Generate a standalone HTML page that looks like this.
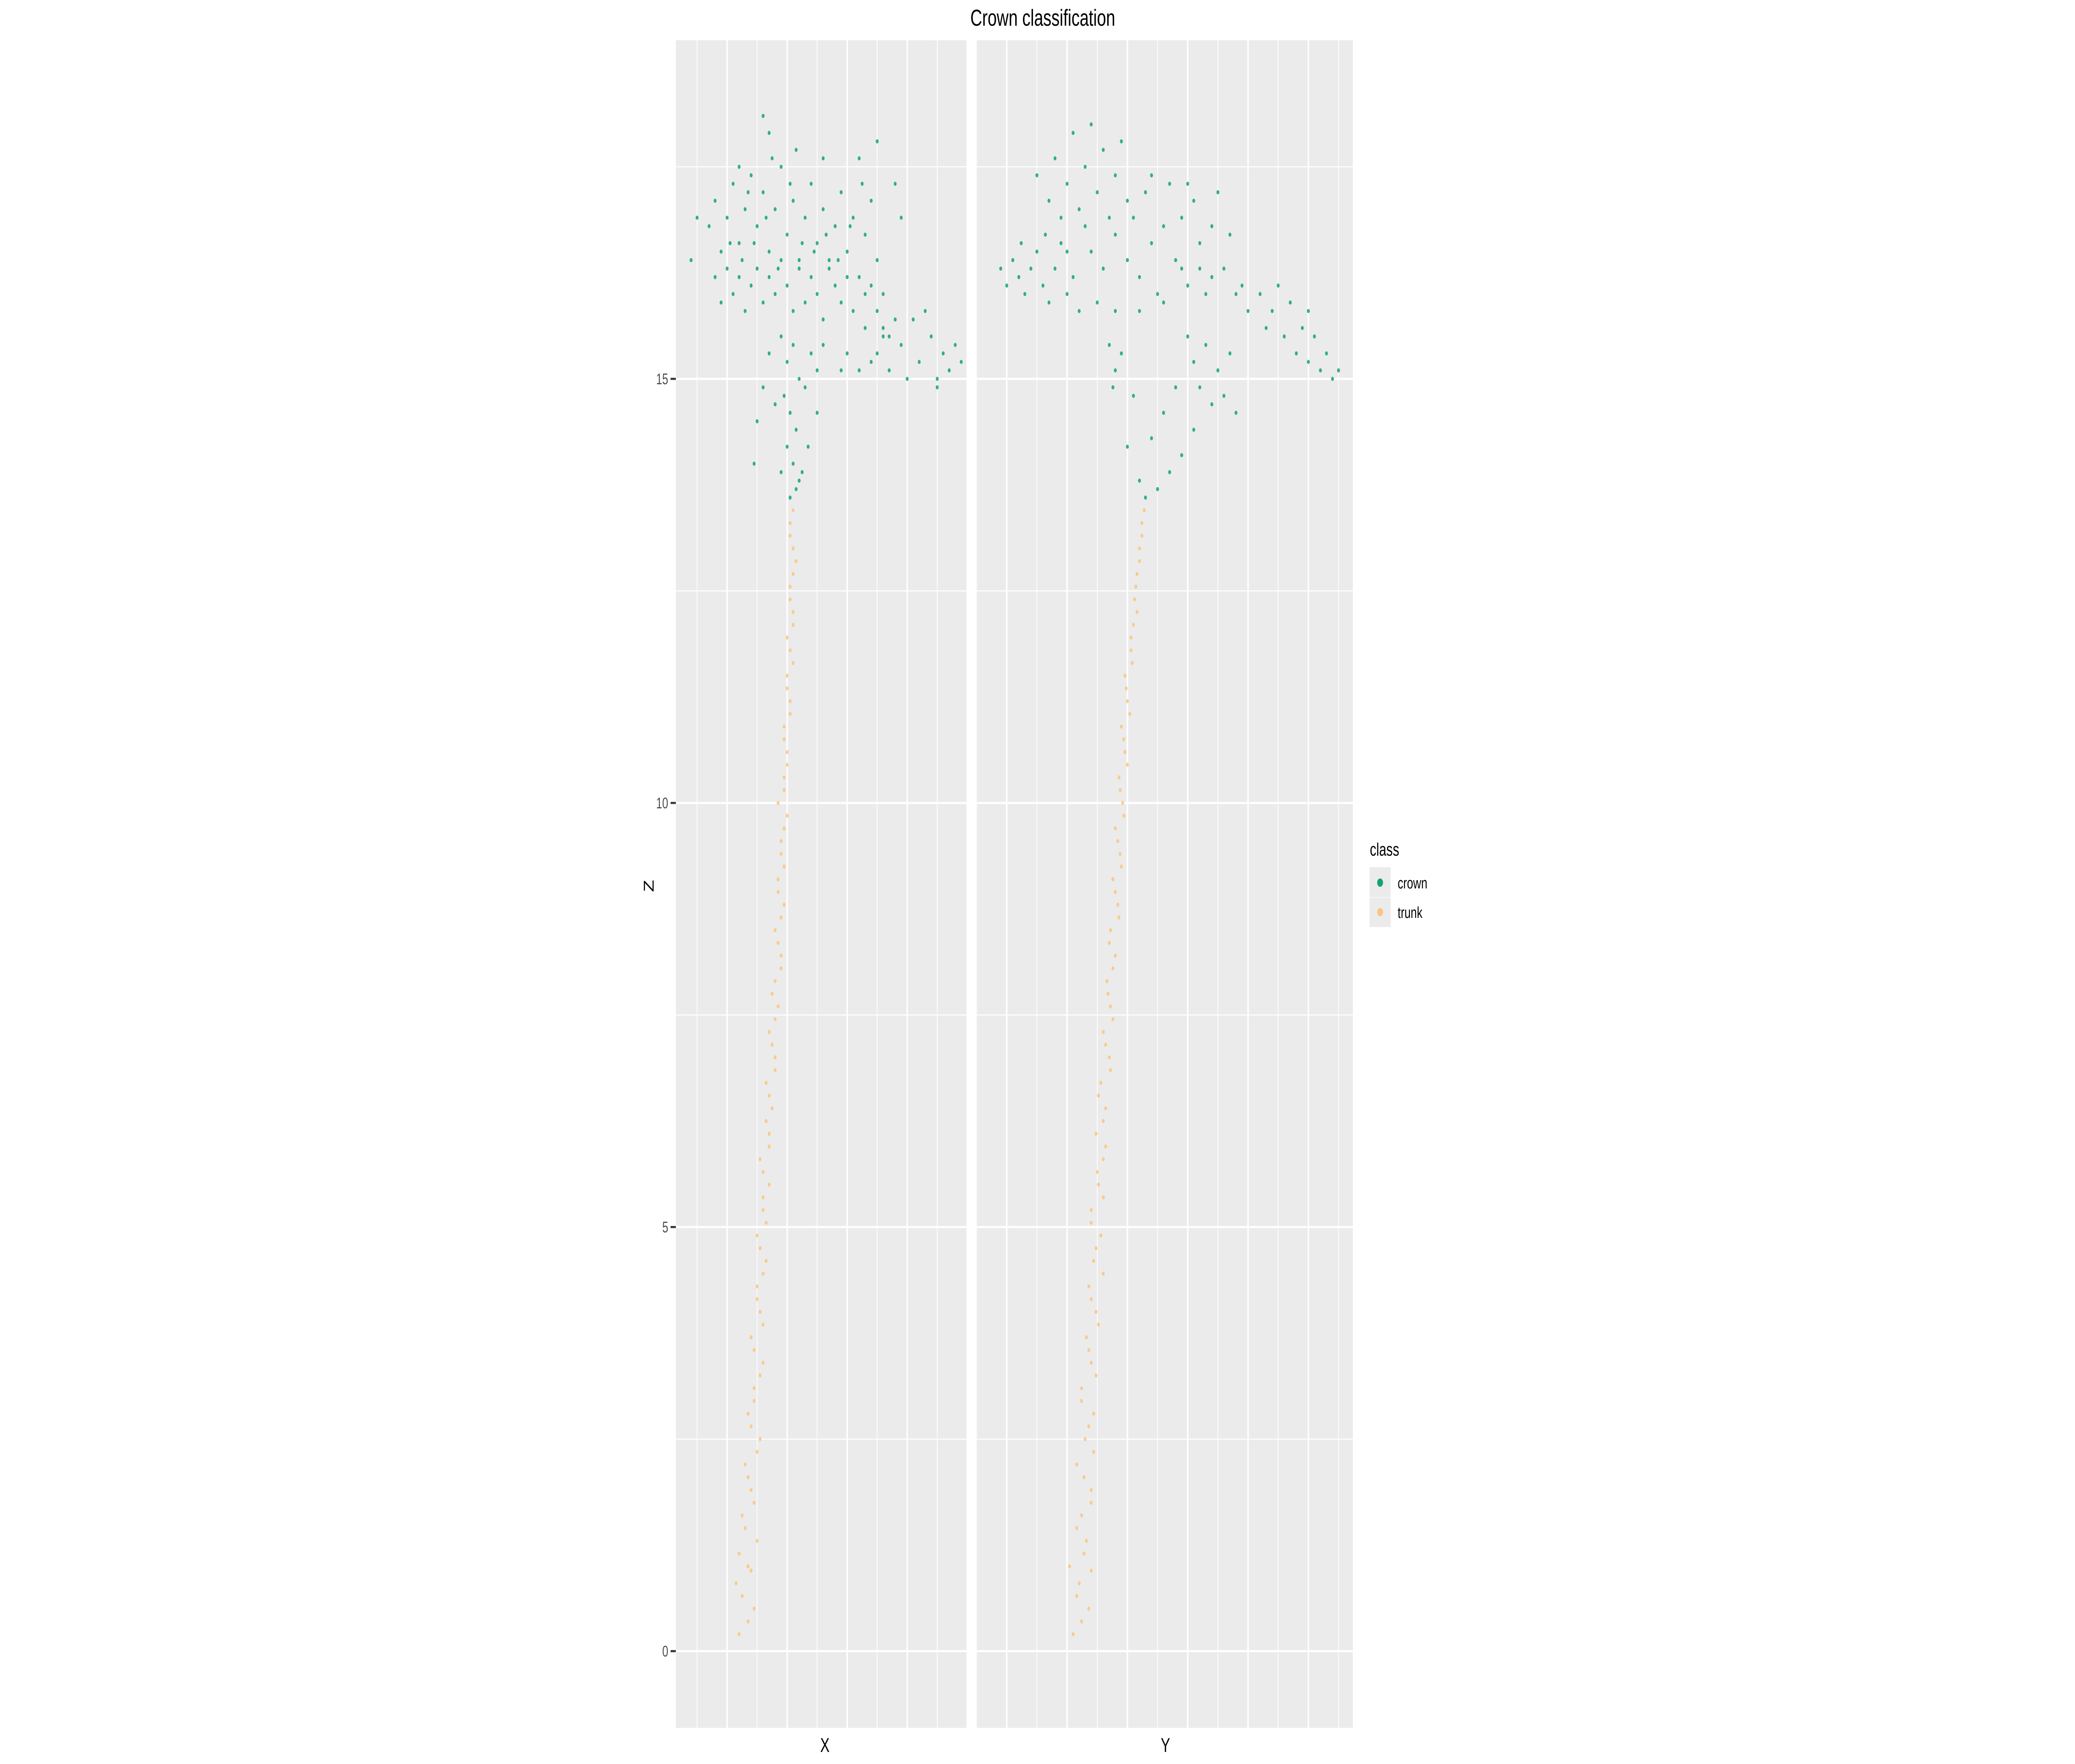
<!DOCTYPE html>
<html><head><meta charset="utf-8"><title>Crown classification</title>
<style>html,body{margin:0;padding:0;background:#fff;width:100%;height:100%;overflow:hidden;}svg{display:block;width:100vw;height:100vh;font-family:"Liberation Sans",Arial,sans-serif;}</style>
</head><body>
<svg id="chart" xmlns="http://www.w3.org/2000/svg" viewBox="0 0 7086 4251" preserveAspectRatio="none">
<rect width="7086" height="4251" fill="#fff"/>
<text x="3561" y="62" font-size="56" text-anchor="middle" fill="#000">Crown classification</text>
<g id="panels"></g>
<text x="0" y="0" font-size="48" text-anchor="middle" transform="translate(2232,2135) rotate(-90)">Z</text>
<text x="2817" y="4222" font-size="48" text-anchor="middle">X</text>
<text x="3980" y="4222" font-size="48" text-anchor="middle">Y</text>
<g>
<text x="4678" y="2062" font-size="44">class</text>
<rect x="4677" y="2090" width="72" height="72" fill="#ebebeb"/>
<rect x="4677" y="2163" width="72" height="71" fill="#ebebeb"/>
<circle cx="4713" cy="2127" r="10" fill="#12a378"/>
<circle cx="4713" cy="2198" r="10" fill="#fcc57f"/>
<text x="4773" y="2141" font-size="38">crown</text>
<text x="4773" y="2212" font-size="38">trunk</text>
</g>
</svg>
<script>
// ---- data ----
const zTicks = [0, 5, 10, 15];
const zTickLabels = ["0", "5", "10", "15"];
const zMinor = [2.5, 7.5, 12.5, 17.5];
const xMajor1 = [-0.5, 0, 0.5, 1, 1.5, 2, 2.5, 3, 3.5, 4];
const yMajor2 = [-0.25, 0, 0.25, 0.5, 0.75, 1, 1.25, 1.5, 1.75, 2, 2.25, 2.5, 2.75];
// trunk, panel X (x, z)
const trunkX1 = [0.2,0.45,0.15,0.35,0.5,0.25,0.4,0.3,0.55,0.35,0.45,0.6,0.4,0.55,0.5,0.65,0.5,0.6,0.7,0.55,0.7,0.75,0.65,0.8,0.7,0.85,0.8,0.9,0.8,0.95,0.85,0.9,0.95,0.85,0.95,1.0,0.95,1.05,1.0,1.05,1.1,1.05,1.1,1.1,1.05,
 0.35,0.25,0.4,0.2,0.3,0.45,0.35,0.5,0.4,0.45,0.55,0.45,0.6,0.5,0.6,0.55,0.65,0.6,0.6,0.7,0.65,0.7,0.8,0.75,0.8,0.75,0.9,0.85,0.9,0.85,0.95,0.9,1.0,0.95,1.0,0.95,1.05,1.0,1.1,1.0,1.1,1.05,1.15,1.05,1.1];
const trunkZ1 = [0.2,0.5,0.8,1.0,1.3,1.6,1.9,2.2,2.5,2.8,3.1,3.4,3.7,4.0,4.3,4.6,4.9,5.2,5.5,5.8,6.1,6.4,6.7,7.0,7.3,7.6,7.9,8.2,8.5,8.8,9.1,9.4,9.7,10.0,10.3,10.6,10.9,11.2,11.5,11.8,12.1,12.4,12.7,13.0,13.3,
 0.35,0.65,0.95,1.15,1.45,1.75,2.05,2.35,2.65,2.95,3.25,3.55,3.85,4.15,4.45,4.75,5.05,5.35,5.65,5.95,6.25,6.55,6.85,7.15,7.45,7.75,8.05,8.35,8.65,8.95,9.25,9.55,9.85,10.15,10.45,10.75,11.05,11.35,11.65,11.95,12.25,12.55,12.85,13.15,13.45];
// trunk, panel Y (y, z)
const trunkY2 = [0.55,0.68,0.6,0.52,0.66,0.62,0.7,0.58,0.65,0.72,0.62,0.7,0.66,0.74,0.68,0.72,0.78,0.7,0.76,0.8,0.74,0.82,0.78,0.85,0.8,0.86,0.83,0.9,0.86,0.92,0.88,0.94,0.9,0.96,0.93,0.98,0.95,1.0,0.98,1.03,1.05,1.06,1.08,1.1,1.12,
 0.62,0.58,0.7,0.64,0.58,0.7,0.64,0.72,0.68,0.62,0.74,0.68,0.76,0.7,0.8,0.74,0.7,0.8,0.75,0.82,0.8,0.76,0.86,0.82,0.88,0.84,0.88,0.85,0.93,0.9,0.95,0.92,0.97,0.94,1.0,0.97,1.02,0.99,1.04,1.03,1.08,1.07,1.1,1.12,1.14];
const trunkZ2 = [0.2,0.5,0.8,1.0,1.3,1.6,1.9,2.2,2.5,2.8,3.1,3.4,3.7,4.0,4.3,4.6,4.9,5.2,5.5,5.8,6.1,6.4,6.7,7.0,7.3,7.6,7.9,8.2,8.5,8.8,9.1,9.4,9.7,10.0,10.3,10.6,10.9,11.2,11.5,11.8,12.1,12.4,12.7,13.0,13.3,
 0.35,0.65,0.95,1.15,1.45,1.75,2.05,2.35,2.65,2.95,3.25,3.55,3.85,4.15,4.45,4.75,5.05,5.35,5.65,5.95,6.25,6.55,6.85,7.15,7.45,7.75,8.05,8.35,8.65,8.95,9.25,9.55,9.85,10.15,10.45,10.75,11.05,11.35,11.65,11.95,12.25,12.55,12.85,13.15,13.45];
// crown, panel X (x, z)
const crownX1 = [-0.3,-0.2,-0.1,0,0.1,0.2,0.3,0.4,0.5,0.6,0.7,0.8,0.9,1.0,1.1,1.2,1.3,1.4,1.5,1.6,1.7,1.8,1.9,2.0,2.1,2.2,2.3,2.4,2.5,2.6,
 -0.2,-0.1,0,0.1,0.2,0.3,0.4,0.5,0.6,0.7,0.8,0.9,1.0,1.1,1.2,1.3,1.4,1.5,1.6,1.7,1.8,1.9,2.0,2.1,2.3,2.4,2.5,2.6,2.7,
 0.05,0.25,0.45,0.65,0.85,1.05,1.25,1.45,1.65,1.85,2.05,2.25,0.35,0.75,1.15,1.6,2.2,2.5,0.6,0.7,0.2,-0.5,-0.6,2.8,2.9,
 0.9,1.0,1.1,1.2,0.95,1.05,1.15,1.0,1.1,1.2,1.05,1.15,1.3,1.4,1.5,1.6,0.7,0.6,0.5,0.45,0.8,1.35,1.25,1.5,0.9,
 2.3,2.5,2.7,2.9,3.1,3.2,3.4,3.5,3.6,3.7,3.8,3.9,3.3,3.0,2.6,2.4,2.8,3.5,2.2,1.9,2.0];
const crownZ1 = [16.8,17.1,16.5,16.9,17.3,16.6,17.0,17.4,16.8,17.2,16.5,17.0,17.5,16.7,17.1,16.4,16.9,17.3,16.6,17.0,16.3,16.8,17.2,16.5,16.9,16.2,16.7,17.1,16.4,16.0,
 16.2,15.9,16.3,16.0,16.2,15.8,16.1,16.3,15.9,16.2,16.0,16.4,16.1,15.8,16.3,15.9,16.2,16.0,15.7,16.4,16.1,15.9,16.2,15.8,16.0,16.1,15.8,15.6,15.5,
 16.6,16.4,16.6,16.9,16.3,17.3,16.6,16.5,16.7,16.4,16.8,17.3,17.2,17.6,17.7,17.6,17.6,17.8,18.1,17.9,17.5,16.9,16.4,17.3,16.9,
 15.5,15.2,15.4,15.0,14.8,14.6,14.4,14.2,14.0,13.8,13.6,13.7,14.9,15.3,15.1,15.4,15.3,14.9,14.5,14.0,14.7,14.2,13.9,14.6,13.9,
 15.6,15.3,15.1,15.4,15.7,15.2,15.5,15.0,15.3,15.1,15.4,15.2,15.8,15.0,15.5,15.2,15.7,14.9,15.1,15.1,15.3];
// crown, panel Y (y, z)
const crownY2 = [-0.05,0.0,0.05,0.1,0.15,0.2,0.25,0.3,0.35,0.4,0.45,0.5,0.55,0.6,0.12,0.32,0.5,
 0.25,0.35,0.4,0.5,0.55,0.6,0.65,0.7,0.75,0.8,0.85,0.9,0.95,1.0,0.45,0.65,0.7,0.8,0.9,1.0,
 1.05,1.1,1.15,1.2,1.25,1.3,1.35,1.4,1.45,1.5,1.55,1.6,1.65,1.7,1.75,1.8,1.85,1.9,1.2,1.5,1.1,1.3,0.9,0.75,1.6,1.7,1.45,
 1.95,2.0,2.1,2.15,2.2,2.3,2.35,2.4,2.45,2.5,2.55,2.6,2.65,2.7,2.75,2.25,2.5,
 0.85,0.9,0.95,0.88,1.5,1.55,1.6,1.65,1.7,1.75,1.8,1.85,1.9,1.55,1.45,1.35,1.25,1.15,1.1,1.2,1.3,1.0,1.05,1.4];
const crownZ2 = [16.3,16.1,16.4,16.2,16.0,16.3,16.5,16.1,15.9,16.3,16.6,16.0,16.2,15.8,16.6,16.7,16.5,
 17.4,17.1,17.6,17.3,17.9,17.0,17.5,18.0,17.2,17.7,16.9,17.4,17.8,17.1,16.9,16.8,16.5,16.3,16.7,16.4,
 16.9,16.2,17.2,16.6,16.0,16.8,17.3,16.4,16.9,16.1,17.1,16.6,16.0,16.8,17.2,16.3,16.7,16.0,17.4,17.3,15.8,15.9,15.8,15.9,16.3,16.2,16.3,
 16.1,15.8,16.0,15.6,15.8,15.5,15.9,15.3,15.6,15.2,15.5,15.1,15.3,15.0,15.1,16.1,15.8,
 15.4,15.1,15.3,14.9,15.5,15.2,14.9,15.4,14.7,15.1,14.8,15.3,14.6,14.4,14.1,13.9,13.7,13.6,13.8,14.3,14.6,14.2,14.8,14.9];

// ---- layout / scales ----
const NS = "http://www.w3.org/2000/svg";
const PT = 97, PB = 4164;
const zScale = z => 3979 - z * 204.4;
const xScale1 = x => 2483 + x * 205;
const yScale2 = y => 3438 + y * 412;
const P1 = {l: 2308, r: 3305}, P2 = {l: 3333, r: 4620};
const CROWN = "#12a378", TRUNK = "#fcc57f";
const root = document.getElementById("panels");

function mk(tag, attrs) {
  const e = document.createElementNS(NS, tag);
  for (const k in attrs) e.setAttribute(k, attrs[k]);
  return e;
}

function drawPanel(p, name, vLines, vScale) {
  const g = mk("g", {});
  
  
  const bg = mk("rect", {x: p.l, y: PT, width: p.r - p.l, height: PB - PT, fill: "#ebebeb"});
  
  
  g.appendChild(bg);
  zMinor.forEach(z => {
    const l = mk("line", {x1: p.l, x2: p.r, y1: zScale(z), y2: zScale(z), stroke: "#fff", "stroke-width": 2.5});
    
    
    g.appendChild(l);
  });
  zTicks.forEach(z => {
    const l = mk("line", {x1: p.l, x2: p.r, y1: zScale(z), y2: zScale(z), stroke: "#fff", "stroke-width": 5});
    
    
    g.appendChild(l);
  });
  vLines.forEach((v, i) => {
    const x = vScale(v);
    if (x < p.l || x > p.r) return;
    const l = mk("line", {x1: x, x2: x, y1: PT, y2: PB, stroke: "#fff", "stroke-width": (i % 2 === 0) ? 2.5 : 5});
    
    
    g.appendChild(l);
  });
  root.appendChild(g);
  return g;
}

function drawPoints(g, xs, zs, sx, color, cls) {
  xs.forEach((v, i) => {
    const c = mk("circle", {cx: sx(v), cy: zScale(zs[i]), r: 5, fill: color, "fill-opacity": 0.85});
    
    
    g.appendChild(c);
  });
}

const g1 = drawPanel(P1, "panel-x", xMajor1, xScale1);
const g2 = drawPanel(P2, "panel-y", yMajor2, yScale2);
drawPoints(g1, trunkX1, trunkZ1, xScale1, TRUNK, "trunk");
drawPoints(g1, crownX1, crownZ1, xScale1, CROWN, "crown");
drawPoints(g2, trunkY2, trunkZ2, yScale2, TRUNK, "trunk");
drawPoints(g2, crownY2, crownZ2, yScale2, CROWN, "crown");

// z axis ticks & labels
zTicks.forEach((z, i) => {
  const t = mk("line", {x1: 2290, x2: 2308, y1: zScale(z), y2: zScale(z), stroke: "#333", "stroke-width": 5});
  
  
  root.appendChild(t);
  const lb = mk("text", {x: 2282, y: zScale(z) + 13, "font-size": 37, "text-anchor": "end", fill: "#4d4d4d"});
  lb.textContent = zTickLabels[i];
  
  
  root.appendChild(lb);
});
</script>
</body></html>
